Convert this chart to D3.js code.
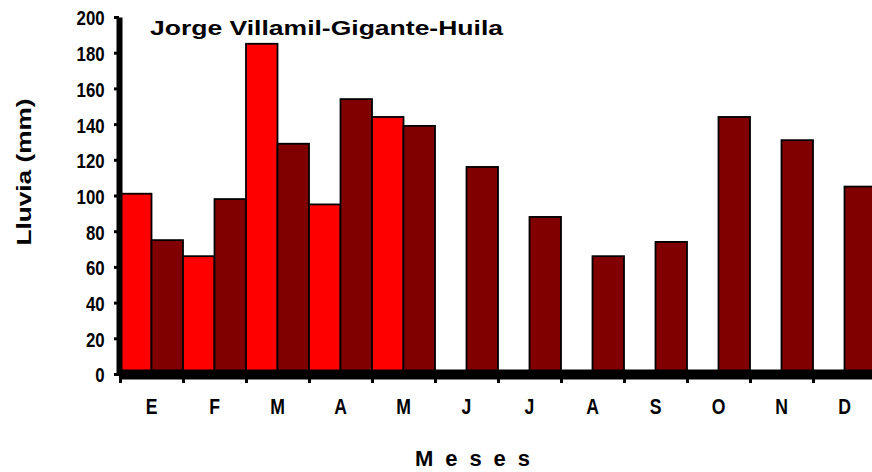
<!DOCTYPE html>
<html>
<head>
<meta charset="utf-8">
<script src="https://cdn.jsdelivr.net/npm/d3@7"></script>
<style>
  body { margin: 0; background: #fff; }
  text { font-family: "Liberation Sans", Arial, sans-serif; font-weight: bold; fill: #000; }
</style>
</head>
<body>
<svg id="chart" width="872" height="472"></svg>
<script>
// months and rainfall (mm)
var months = ["E", "F", "M", "A", "M", "J", "J", "A", "S", "O", "N", "D"];
var serieRoja = [101, 66, 185, 95, 144, null, null, null, null, null, null, null];
var serieOscura = [75, 98, 129, 154, 139, 116, 88, 66, 74, 144, 131, 105];
var yTicks = [0, 20, 40, 60, 80, 100, 120, 140, 160, 180, 200];

var svg = d3.select("#chart");

var x = d3.scaleBand()
    .domain(d3.range(months.length))
    .range([120, 876])
    .padding(0);
var xs = d3.scaleBand()
    .domain(["roja", "oscura"])
    .range([0, x.bandwidth()]);
var y = d3.scaleLinear()
    .domain([0, 200])
    .range([374, 17]);

var data = months.map(function (m, i) {
    return {i: i, roja: serieRoja[i], oscura: serieOscura[i]};
});

// bars
var grupos = svg.append("g").selectAll("g")
    .data(data)
    .enter().append("g")
    .attr("transform", function (d) { return "translate(" + x(d.i) + ",0)"; });

grupos.selectAll("rect")
    .data(function (d) {
        return ["roja", "oscura"].filter(function (k) { return d[k] != null; })
            .map(function (k) { return {k: k, v: d[k]}; });
    })
    .enter().append("rect")
    .attr("x", function (d) { return xs(d.k); })
    .attr("y", function (d) { return y(d.v); })
    .attr("width", xs.bandwidth())
    .attr("height", function (d) { return y(0) - y(d.v); })
    .attr("fill", function (d) { return d.k == "roja" ? "#ff0000" : "#800000"; })
    .attr("stroke", "#000")
    .attr("stroke-width", 1.8);

// y axis
var yAxis = svg.append("g")
    .attr("transform", "translate(119,0)")
    .call(d3.axisLeft(y).tickValues(yTicks).tickSize(5).tickPadding(13).tickSizeOuter(0));
yAxis.select(".domain").attr("stroke-width", 6).attr("stroke", "#000");
yAxis.selectAll(".tick line").attr("stroke-width", 3);
yAxis.selectAll(".tick text")
    .style("font-size", "21px")
    .attr("dy", "0.38em")
    .attr("transform", "scale(0.8,1)");

// x axis
var xLine = d3.scaleLinear().domain([0, 12]).range([120, 876]);
var xAxis = svg.append("g")
    .attr("transform", "translate(0," + y(0) + ")")
    .call(d3.axisBottom(xLine).tickValues(d3.range(12)).tickSize(9).tickFormat("").tickSizeOuter(0));
xAxis.select(".domain").attr("stroke-width", 10).attr("stroke", "#000");
xAxis.selectAll(".tick line").attr("stroke-width", 3);

var xLabels = svg.append("g")
    .attr("transform", "translate(0,395)")
    .call(d3.axisBottom(x).tickSize(0).tickFormat(function (i) { return months[i]; }));
xLabels.select(".domain").remove();
xLabels.selectAll(".tick text")
    .style("font-size", "22px")
    .attr("transform", "scale(0.8,1)");

// titles
svg.append("text")
    .attr("x", 150)
    .attr("y", 35)
    .attr("textLength", 353)
    .attr("lengthAdjust", "spacingAndGlyphs")
    .style("font-size", "20px")
    .text("Jorge Villamil-Gigante-Huila");

svg.append("text")
    .attr("transform", "translate(31,172) rotate(-90)")
    .attr("text-anchor", "middle")
    .attr("textLength", 147)
    .attr("lengthAdjust", "spacingAndGlyphs")
    .style("font-size", "21px")
    .text("Lluvia (mm)");

svg.append("text")
    .attr("x", 415)
    .attr("y", 466)
    .attr("textLength", 115)
    .attr("lengthAdjust", "spacing")
    .style("font-size", "22px")
    .text("Meses");
</script>
</body>
</html>
